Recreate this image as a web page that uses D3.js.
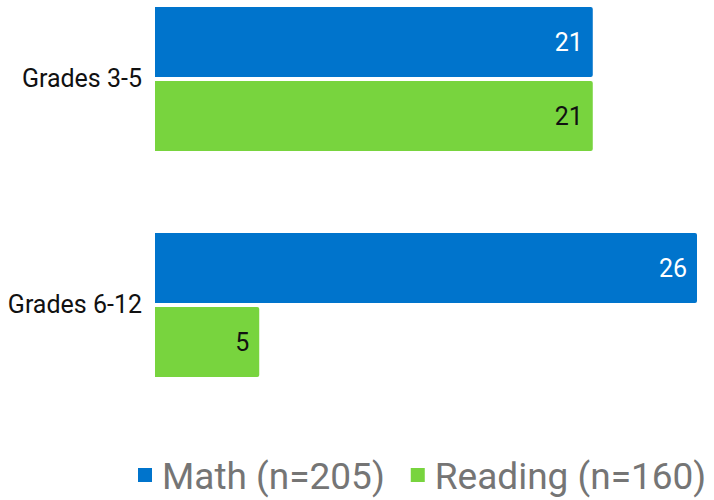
<!DOCTYPE html>
<html>
<head>
<meta charset="utf-8">
<script src="https://cdn.jsdelivr.net/npm/d3@7"></script>
<style>
  html, body { margin: 0; padding: 0; background: #fff; }
  svg { display: block; font-family: Roboto, "Noto Sans", sans-serif; }
</style>
</head>
<body>
<svg id="chart" width="714" height="500"></svg>
<script>
// Grade bands and the two subject series
const categories = ["Grades 3-5", "Grades 6-12"];
const seriesNames = ["Math (n=205)", "Reading (n=160)"];
const mathValues = [21, 26];
const readingValues = [21, 5];
const seriesColors = ["#0074cc", "#78d43e"];
const labelColors = ["#ffffff", "#111111"];

const series = [
  { name: seriesNames[0], values: mathValues, color: seriesColors[0], label: labelColors[0] },
  { name: seriesNames[1], values: readingValues, color: seriesColors[1], label: labelColors[1] }
];

const svg = d3.select("#chart");
const left = 155;

const x = d3.scaleLinear().domain([0, 26]).range([left, 697]);
const y0 = d3.scaleBand().domain(categories).range([7, 377]).paddingInner(0.363).paddingOuter(0);
const y1 = d3.scaleBand().domain(series.map(s => s.name)).range([0, y0.bandwidth()]).paddingInner(0.054);

// bar shape with slightly rounded right corners
function barPath(x0, x1, top, h, r) {
  r = Math.min(r, (x1 - x0) / 2);
  return `M${x0},${top}H${x1 - r}Q${x1},${top} ${x1},${top + r}V${top + h - r}Q${x1},${top + h} ${x1 - r},${top + h}H${x0}Z`;
}

const groups = svg.selectAll("g.group")
  .data(categories)
  .join("g")
  .attr("class", "group")
  .attr("transform", d => `translate(0,${y0(d)})`);

groups.each(function(cat, ci) {
  const g = d3.select(this);
  series.forEach(s => {
    const v = s.values[ci];
    const top = y1(s.name);
    g.append("path")
      .attr("d", barPath(x(0), x(v), top, y1.bandwidth(), 2))
      .attr("fill", s.color);
    g.append("text")
      .attr("x", x(v) - 10)
      .attr("y", top + y1.bandwidth() / 2)
      .attr("dy", "0.35em")
      .attr("text-anchor", "end")
      .attr("font-size", 25)
      .attr("fill", s.label)
      .text(v);
  });
});

// category axis labels
const yAxis = d3.axisLeft(y0).tickSize(0).tickPadding(13);
const axisG = svg.append("g").attr("transform", `translate(${left},0)`).call(yAxis);
axisG.select(".domain").remove();
axisG.selectAll("text")
  .attr("font-size", 25)
  .attr("font-family", "Roboto, sans-serif")
  .attr("fill", "#111");

// legend
const legend = svg.append("g").attr("class", "legend");
let lx = 138;
series.forEach(s => {
  legend.append("rect")
    .attr("x", lx).attr("y", 468)
    .attr("width", 14).attr("height", 14)
    .attr("fill", s.color);
  const t = legend.append("text")
    .attr("x", lx + 24)
    .attr("y", 489)
    .attr("font-size", 37)
    .attr("fill", "#757575")
    .text(s.name);
  lx += 24 + t.node().getComputedTextLength() + 26;
});
</script>
</body>
</html>
